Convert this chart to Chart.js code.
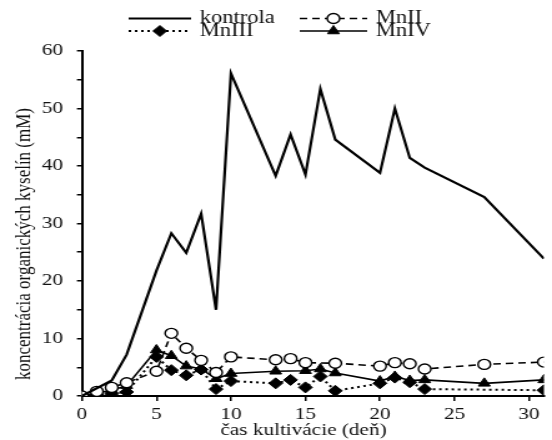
<!DOCTYPE html>
<html>
<head>
<meta charset="utf-8">
<script src="https://cdn.jsdelivr.net/npm/chart.js@4/dist/chart.umd.min.js"></script>
<style>
  html, body { margin: 0; padding: 0; background: #fff; overflow: hidden; }
  #wrap { width: 552px; height: 440px; overflow: hidden; }
  /* the reference is stretched horizontally, so draw narrow and stretch */
  #chart { display: block; transform: scaleX(1.2489); transform-origin: 0 0; }
</style>
</head>
<body>
<div id="wrap"><canvas id="chart" width="442" height="440"></canvas></div>
<script>
// data
const daysKontrola = [0, 2, 3, 5, 6, 7, 8, 9, 10, 13, 14, 15, 16, 17, 20, 21, 22, 23, 27, 31];
const kontrola = [0, 2.7, 7.2, 21.8, 28.3, 24.9, 31.7, 15.0, 56.1, 38.3, 45.5, 38.5, 53.4, 44.6, 38.8, 50.0, 41.4, 39.7, 34.6, 23.9];

const daysMnII = [0, 1, 2, 3, 5, 6, 7, 8, 9, 10, 13, 14, 15, 17, 20, 21, 22, 23, 27, 31];
const mnII = [0, 0.8, 1.5, 2.3, 4.3, 10.9, 8.3, 6.2, 4.1, 6.8, 6.3, 6.5, 5.8, 5.7, 5.2, 5.8, 5.6, 4.7, 5.5, 5.9];

const daysMnIII = [0, 1, 2, 3, 5, 6, 7, 8, 9, 10, 13, 14, 15, 16, 17, 20, 21, 22, 23, 31];
const mnIII = [0, 0.2, 0.4, 0.7, 6.8, 4.5, 3.6, 4.6, 1.2, 2.6, 2.2, 2.8, 1.5, 3.4, 0.9, 2.2, 3.2, 2.4, 1.2, 1.0];

const daysMnIV = [0, 1, 2, 3, 5, 6, 7, 8, 9, 10, 13, 15, 16, 17, 20, 21, 22, 23, 27, 31];
const mnIV = [0, 0.5, 1.0, 1.8, 8.0, 7.0, 5.2, 4.7, 3.0, 3.9, 4.3, 4.4, 4.7, 4.0, 2.6, 3.4, 2.7, 2.8, 2.2, 2.8];

const seriesNames = ['kontrola', 'MnII', 'MnIII', 'MnIV'];
const xTitle = 'čas kultivácie (deň)';
const yTitle = 'koncentrácia organických kyselín (mM)';

const FONT = '"Liberation Serif", "Times New Roman", serif';
const INK = '#111';

function pairs(xs, ys) {
    return xs.map((x, i) => ({ x: x, y: ys[i] }));
}

// legend (2 x 2) and axis titles drawn by hand
const extras = {
    id: 'extras',
    afterDraw(chart) {
        const ctx = chart.ctx;
        ctx.save();
        ctx.fillStyle = INK;
        ctx.font = '17px ' + FONT;
        ctx.textBaseline = 'middle';

        ctx.textAlign = 'center';
        ctx.fillText(xTitle, 243, 431);

        ctx.save();
        ctx.translate(20, 244);
        ctx.rotate(-Math.PI / 2);
        ctx.fillText(yTitle, 0, 0);
        ctx.restore();

        ctx.font = '18px ' + FONT;
        const slots = [[103, 18.5], [240, 18.5], [103, 31], [240, 31]];
        chart.data.datasets.forEach((ds, i) => {
            const [x0, y] = slots[i];
            const len = i % 2 === 0 ? 50 : 54;
            ctx.save();
            ctx.strokeStyle = ds.borderColor;
            ctx.lineWidth = ds.borderWidth;
            ctx.setLineDash(ds.borderDash || []);
            ctx.beginPath();
            ctx.moveTo(x0, y);
            ctx.lineTo(x0 + len, y);
            ctx.stroke();
            ctx.restore();
            if (ds.pointRadius > 0) {
                ctx.save();
                ctx.fillStyle = ds.pointBackgroundColor;
                ctx.strokeStyle = ds.pointBorderColor;
                ctx.lineWidth = ds.pointBorderWidth;
                Chart.helpers.drawPoint(ctx, {
                    pointStyle: ds.pointStyle, radius: ds.pointRadius, rotation: 0, borderWidth: ds.pointBorderWidth
                }, x0 + len / 2, y);
                ctx.restore();
            }
            ctx.fillStyle = INK;
            ctx.textAlign = 'left';
            ctx.fillText(ds.label, x0 + len + 7, y);
        });
        ctx.restore();
    }
};

new Chart(document.getElementById('chart'), {
    type: 'line',
    data: {
        datasets: [
            {
                label: seriesNames[0],
                data: pairs(daysKontrola, kontrola),
                borderColor: '#000',
                borderWidth: 2.2,
                pointRadius: 0,
                pointStyle: 'circle'
            },
            {
                label: seriesNames[1],
                data: pairs(daysMnII, mnII),
                borderColor: '#000',
                borderWidth: 1.6,
                borderDash: [6, 4],
                pointStyle: 'circle',
                pointRadius: 5,
                pointBackgroundColor: '#fff',
                pointBorderColor: '#000',
                pointBorderWidth: 1.4
            },
            {
                label: seriesNames[2],
                data: pairs(daysMnIII, mnIII),
                borderColor: '#000',
                borderWidth: 2,
                borderDash: [2, 3],
                pointStyle: 'rectRot',
                pointRadius: 5.5,
                pointBackgroundColor: '#000',
                pointBorderColor: '#000',
                pointBorderWidth: 1
            },
            {
                label: seriesNames[3],
                data: pairs(daysMnIV, mnIV),
                borderColor: '#000',
                borderWidth: 1.6,
                pointStyle: 'triangle',
                pointRadius: 5.5,
                pointBackgroundColor: '#000',
                pointBorderColor: '#000',
                pointBorderWidth: 1
            }
        ]
    },
    options: {
        responsive: false,
        animation: false,
        layout: { padding: { top: 51, left: 0, right: 0, bottom: 0 } },
        plugins: { legend: { display: false }, tooltip: { enabled: false } },
        elements: { line: { tension: 0 } },
        scales: {
            x: {
                type: 'linear',
                min: 0,
                max: 31,
                afterFit(scale) { scale.height = 44; },
                border: { display: true, color: '#000', width: 2 },
                grid: { display: true, drawOnChartArea: false, drawTicks: true, tickLength: 5, color: '#000', lineWidth: 1.5 },
                ticks: { stepSize: 5, includeBounds: false, padding: 3, color: INK, font: { family: FONT, size: 17 }, maxRotation: 0 }
            },
            y: {
                min: 0,
                max: 60,
                afterFit(scale) { scale.width = 65.6; },
                border: { display: true, color: '#000', width: 2 },
                grid: { display: true, drawOnChartArea: false, drawTicks: true, tickLength: 4, color: '#000', lineWidth: 1.5 },
                ticks: {
                    stepSize: 5,
                    padding: 11,
                    color: INK,
                    font: { family: FONT, size: 17 },
                    callback: v => (v % 10 === 0 ? String(v) : '')
                }
            }
        }
    },
    plugins: [extras]
});
</script>
</body>
</html>
